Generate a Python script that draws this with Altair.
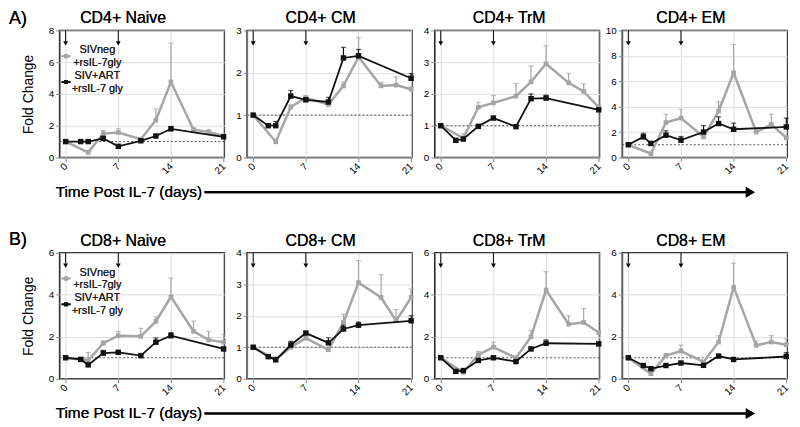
import altair as alt
import pandas as pd

FONT = "Liberation Sans"
GRAY = "#a5a5a5"
BLACK = "#111111"

days_black = [0, 2, 3, 5, 7, 10, 12, 14, 21]
days_gray = [0, 3, 5, 7, 10, 12, 14, 17, 19, 21]
x_ticks = [0, 7, 14, 21]
arrow_days = [0, 7]
ref_value = [1]

series_names = ["SIVneg +rsIL-7gly", "SIV+ART +rsIL-7 gly"]

titles = ["CD4+ Naive", "CD4+ CM", "CD4+ TrM", "CD4+ EM",
          "CD8+ Naive", "CD8+ CM", "CD8+ TrM", "CD8+ EM"]
y_max = [8, 3, 4, 10, 6, 4, 6, 6]
y_ticks = [[0, 2, 4, 6, 8], [0, 1, 2, 3], [0, 1, 2, 3, 4], [0, 2, 4, 6, 8, 10],
           [0, 2, 4, 6], [0, 1, 2, 3, 4], [0, 2, 4, 6], [0, 2, 4, 6]]

black_vals = [
    [1.0, 1.0, 1.0, 1.2, 0.7, 1.05, 1.35, 1.8, 1.3],
    [1.0, 0.75, 0.75, 1.45, 1.36, 1.31, 2.35, 2.4, 1.87],
    [1.0, 0.54, 0.58, 0.98, 1.24, 0.97, 1.85, 1.87, 1.5],
    [1.0, 1.62, 1.1, 1.75, 1.36, 2.0, 2.67, 2.22, 2.4],
    [1.0, 0.92, 0.66, 1.22, 1.26, 1.1, 1.74, 2.05, 1.42],
    [1.0, 0.7, 0.6, 1.07, 1.45, 1.14, 1.58, 1.7, 1.84],
    [1.0, 0.35, 0.39, 0.87, 1.0, 0.82, 1.42, 1.69, 1.66],
    [1.0, 0.63, 0.48, 0.63, 0.75, 0.64, 1.08, 0.92, 1.06],
]
black_sd = [
    [0, 0.05, 0.05, 0.1, 0.1, 0.05, 0.08, 0.15, 0.08],
    [0, 0.05, 0.1, 0.13, 0.05, 0.11, 0.25, 0.15, 0.11],
    [0, 0.03, 0.05, 0.03, 0.05, 0.03, 0.15, 0.09, 0.03],
    [0, 0.28, 0.1, 0.35, 0.29, 0.5, 0.53, 0.48, 0.7],
    [0, 0.03, 0.05, 0.13, 0.05, 0.05, 0.2, 0.15, 0.05],
    [0, 0.03, 0.05, 0.11, 0.05, 0.16, 0.12, 0.1, 0.16],
    [0, 0.03, 0.03, 0.05, 0.05, 0.03, 0.05, 0.16, 0.05],
    [0, 0.03, 0.03, 0.03, 0.03, 0.03, 0.05, 0.03, 0.19],
]
gray_vals = [
    [1.0, 0.32, 1.5, 1.57, 1.15, 2.35, 4.75, 1.75, 1.6, 1.35],
    [1.0, 0.37, 1.19, 1.41, 1.25, 1.69, 2.37, 1.69, 1.71, 1.61],
    [1.0, 0.61, 1.58, 1.72, 1.93, 2.38, 2.95, 2.35, 2.08, 1.58],
    [1.0, 0.3, 2.75, 3.1, 1.62, 3.65, 6.67, 2.0, 2.6, 1.55],
    [1.0, 0.87, 1.69, 2.05, 2.02, 2.73, 3.9, 2.26, 1.85, 1.74],
    [1.0, 0.61, 1.0, 1.29, 0.92, 1.79, 3.05, 2.58, 1.84, 2.58],
    [1.0, 0.3, 1.14, 1.5, 0.99, 2.0, 4.22, 2.6, 2.68, 2.2],
    [1.0, 0.24, 1.1, 1.32, 0.8, 1.75, 4.36, 1.59, 1.75, 1.62],
]
gray_sd = [
    [0, 0.05, 0.2, 0.25, 0.1, 0.7, 2.45, 0.1, 0.15, 0.1],
    [0, 0.05, 0.05, 0.05, 0.05, 0.09, 0.46, 0.08, 0.19, 0.05],
    [0, 0.14, 0.16, 0.23, 0.4, 0.5, 0.57, 0.3, 0.24, 0.05],
    [0, 0.05, 0.65, 0.7, 0.1, 0.75, 2.23, 0.15, 0.8, 0.1],
    [0, 0.38, 0.11, 0.2, 0.38, 0.22, 0.9, 0.49, 0.4, 0.36],
    [0, 0.09, 0.2, 0.05, 0.05, 0.26, 0.7, 0.72, 0.36, 0.27],
    [0, 0.03, 0.16, 0.25, 0.05, 0.3, 0.88, 0.4, 0.67, 0.05],
    [0, 0.03, 0.1, 0.28, 0.05, 0.3, 1.14, 0.21, 0.3, 0.28],
]

legend_lines = [["SIVneg", "+rsIL-7gly"], ["SIV+ART", "+rsIL-7 gly"]]
row_labels = ["A)", "B)"]
x_title = "Time Post IL-7 (days)"
y_title = "Fold Change"

W = 166
TITLE_SHIFT = [-19, -9, -8, -14]


def txt(ad, text, x, y, size, align="center", color="black"):
    return alt.Chart(ad).mark_text(font=FONT, fontSize=size, color=color, align=align,
                                   baseline="middle").encode(
        x=alt.value(x), y=alt.value(y), text=alt.value(text))


def panel(i, height, col, row_label, label_y):
    first = col == 0
    bd = pd.DataFrame({"day": days_black, "value": black_vals[i], "sd": black_sd[i],
                       "series": series_names[1]})
    gd = pd.DataFrame({"day": days_gray, "value": gray_vals[i], "sd": gray_sd[i],
                       "series": series_names[0]})
    for d in (bd, gd):
        d["upper"] = d["value"] + d["sd"]

    xs = alt.Scale(domain=[-0.8, 21.1], nice=False, zero=False)
    ys = alt.Scale(domain=[0, y_max[i]], nice=False, zero=True)
    x_axis = alt.Axis(values=x_ticks, title=None, labelAngle=-45, labelAlign="right",
                      labelBaseline="middle", labelPadding=3, tickSize=4)
    if first:
        y_axis = alt.Axis(values=y_ticks[i], title=y_title, tickSize=4, labelPadding=2,
                          titlePadding=13, titleFontSize=14, titleFontWeight="normal",
                          titleFont=FONT)
    else:
        y_axis = alt.Axis(values=y_ticks[i], title=None, tickSize=4, labelPadding=2)

    X = alt.X("day:Q", scale=xs, axis=x_axis)

    layers = []
    ref = alt.Chart(pd.DataFrame({"v": ref_value})).mark_rule(
        color="#555555", strokeDash=[2, 2], strokeWidth=1).encode(
        y=alt.Y("v:Q", scale=ys, axis=y_axis))
    layers.append(ref)

    for d, colr, lw, ps in ((gd, GRAY, 2.5, 22), (bd, BLACK, 1.8, 30)):
        e = d[d["sd"] > 0]
        base = alt.Chart(d).encode(x=X, y=alt.Y("value:Q", scale=ys, axis=y_axis))
        ebase = alt.Chart(e).encode(x=X)
        layers.append(ebase.mark_rule(color=colr, strokeWidth=1.2).encode(
            y=alt.Y("value:Q", scale=ys, axis=y_axis), y2="upper:Q"))
        layers.append(ebase.mark_tick(color=colr, orient="horizontal", size=5, thickness=1.2).encode(
            y=alt.Y("upper:Q", scale=ys, axis=y_axis)))
        layers.append(base.mark_line(color=colr, strokeWidth=lw))
        layers.append(base.mark_point(color=colr, shape="square", filled=True, size=ps, opacity=1))

    ad = pd.DataFrame({"day": arrow_days})
    layers.append(alt.Chart(ad).mark_rule(color="black", strokeWidth=1).encode(
        x=X, y=alt.value(0), y2=alt.value(11)))
    layers.append(alt.Chart(ad).mark_point(color="black", shape="triangle-down", filled=True,
                                           size=24, opacity=1).encode(x=X, y=alt.value(13)))

    layers.append(txt(ad, titles[i], W / 2 + TITLE_SHIFT[col], -12, 16))

    if first:
        for k, (colr, ys_sym, yt) in enumerate(((GRAY, 26, (20, 33)), (BLACK, 52, (46, 59)))):
            layers.append(alt.Chart(ad).mark_rule(color=colr, strokeWidth=1.8).encode(
                x=alt.value(2), x2=alt.value(11), y=alt.value(ys_sym)))
            layers.append(alt.Chart(ad).mark_point(color=colr, shape="square", filled=True,
                                                   size=16, opacity=1).encode(
                x=alt.value(6.5), y=alt.value(ys_sym)))
            for t, yy in zip(legend_lines[k], yt):
                layers.append(txt(ad, t, 38, yy, 11, color="#222"))
        layers.append(txt(ad, row_label, -51, label_y, 18, align="left"))
        layers.append(txt(ad, x_title, -4, height + 35, 15.5, align="left"))
        layers.append(alt.Chart(ad).mark_rule(color="black", strokeWidth=2.2).encode(
            x=alt.value(146), x2=alt.value(695), y=alt.value(height + 35)))
        layers.append(alt.Chart(ad).mark_point(color="black", shape="triangle-right", filled=True,
                                               size=110, opacity=1).encode(
            x=alt.value(696), y=alt.value(height + 35)))

    return alt.layer(*layers).properties(
        width=W, height=height,
        view=alt.ViewBackground(stroke="black", strokeWidth=1.5))


panels = []
for r, h, ly in ((0, 128, -11), (1, 127, -13)):
    for j in range(4):
        panels.append(panel(4 * r + j, h, j, row_labels[r], ly))

chart = alt.concat(*panels, columns=4, spacing={"row": 96, "column": 23},
                   bounds="flush").properties(
    padding={"left": 0, "top": 0, "right": 0, "bottom": 0}
).configure_view(stroke="black", strokeWidth=1.5).configure_axis(
    grid=False, domainColor="black", domainWidth=1.5, tickColor="black", tickWidth=1.2,
    labelFont=FONT, labelFontSize=12, labelColor="black", titleFont=FONT,
    titleColor="black", titleFontWeight="normal"
).configure(background="white")

chart.save("out.html", embed_options={"renderer": "svg", "actions": False})
